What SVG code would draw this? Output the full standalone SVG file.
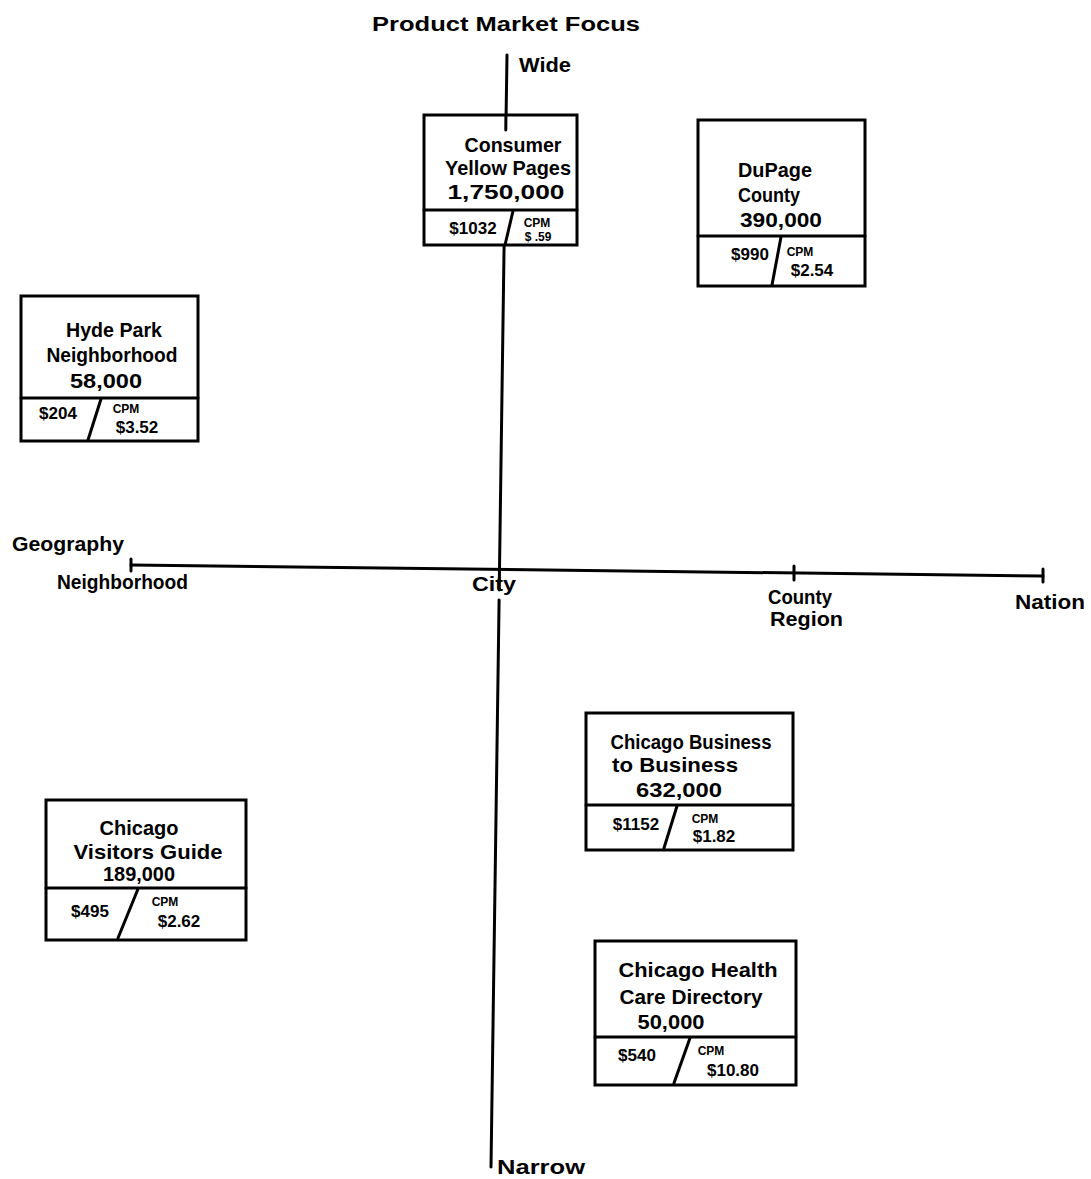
<svg xmlns="http://www.w3.org/2000/svg" width="1091" height="1179" viewBox="0 0 1091 1179">
<style>
text{font-family:"Liberation Sans",Arial,sans-serif;font-weight:bold;fill:#000}
.t{font-size:21px;text-anchor:middle}
.lb{font-size:21px}
.s{font-size:12px;text-anchor:middle}
.v{font-size:17px;text-anchor:middle}
.box{fill:#fff;stroke:#000;stroke-width:3}
.ln{fill:none;stroke:#000;stroke-width:3;stroke-linecap:round}
</style>
<rect width="1091" height="1179" fill="#fff"/>
<g id="axes">
<line class="ln" x1="507" y1="55" x2="506.1" y2="115"/>
<line class="ln" x1="504.1" y1="245" x2="499.2" y2="590"/>
<line class="ln" x1="499.1" y1="600" x2="491" y2="1167"/>
<line class="ln" x1="131" y1="565" x2="1043" y2="576"/>
<line class="ln" x1="131" y1="559" x2="131" y2="571"/>
<line class="ln" x1="794" y1="566" x2="794" y2="580"/>
<line class="ln" x1="1043" y1="569" x2="1043" y2="582"/>
</g>
<g id="labels">
<text class="lb" x="372" y="31" textLength="268" lengthAdjust="spacingAndGlyphs">Product Market Focus</text>
<text class="lb" x="519" y="72" textLength="52" lengthAdjust="spacingAndGlyphs">Wide</text>
<text class="lb" x="497" y="1174" textLength="88" lengthAdjust="spacingAndGlyphs">Narrow</text>
<text class="lb" x="12" y="551" textLength="112" lengthAdjust="spacingAndGlyphs">Geography</text>
<text class="lb" x="57" y="589" textLength="131" lengthAdjust="spacingAndGlyphs">Neighborhood</text>
<text class="lb" x="472" y="591" textLength="44" lengthAdjust="spacingAndGlyphs">City</text>
<text class="lb" x="768" y="604" textLength="64" lengthAdjust="spacingAndGlyphs">County</text>
<text class="lb" x="770" y="626" textLength="73" lengthAdjust="spacingAndGlyphs">Region</text>
<text class="lb" x="1015" y="609" textLength="70" lengthAdjust="spacingAndGlyphs">Nation</text>
</g>
<g id="consumer-yellow-pages">
<rect class="box" x="424" y="115" width="153" height="130"/>
<line class="ln" x1="505.9" y1="115" x2="505.8" y2="130"/>
<line class="ln" x1="424" y1="210" x2="577" y2="210"/>
<line class="ln" x1="513" y1="211" x2="505" y2="245"/>
<text class="t" x="513" y="152" textLength="97" lengthAdjust="spacingAndGlyphs">Consumer</text>
<text class="t" x="508" y="175" textLength="126" lengthAdjust="spacingAndGlyphs">Yellow Pages</text>
<text class="t" x="506" y="199" textLength="117" lengthAdjust="spacingAndGlyphs">1,750,000</text>
<text class="v" x="473" y="234">$1032</text>
<text class="s" x="537" y="227">CPM</text>
<text class="s" x="538" y="241">$ .59</text>
</g>
<g id="dupage-county">
<rect class="box" x="698" y="120" width="167" height="166"/>
<line class="ln" x1="698" y1="236" x2="865" y2="236"/>
<line class="ln" x1="781" y1="237" x2="772" y2="285"/>
<text class="t" x="775" y="177" textLength="74" lengthAdjust="spacingAndGlyphs">DuPage</text>
<text class="t" x="769" y="202" textLength="62" lengthAdjust="spacingAndGlyphs">County</text>
<text class="t" x="781" y="227" textLength="82" lengthAdjust="spacingAndGlyphs">390,000</text>
<text class="v" x="750" y="260">$990</text>
<text class="s" x="800" y="256">CPM</text>
<text class="v" x="812" y="276">$2.54</text>
</g>
<g id="hyde-park">
<rect class="box" x="21" y="296" width="177" height="145"/>
<line class="ln" x1="21" y1="398" x2="198" y2="398"/>
<line class="ln" x1="101" y1="399" x2="88" y2="440"/>
<text class="t" x="114" y="337" textLength="96" lengthAdjust="spacingAndGlyphs">Hyde Park</text>
<text class="t" x="112" y="362" textLength="131" lengthAdjust="spacingAndGlyphs">Neighborhood</text>
<text class="t" x="106" y="388" textLength="72" lengthAdjust="spacingAndGlyphs">58,000</text>
<text class="v" x="58" y="419">$204</text>
<text class="s" x="126" y="413">CPM</text>
<text class="v" x="137" y="433">$3.52</text>
</g>
<g id="chicago-business-to-business">
<rect class="box" x="586" y="713" width="207" height="137"/>
<line class="ln" x1="586" y1="805" x2="793" y2="805"/>
<line class="ln" x1="677" y1="806" x2="664" y2="848"/>
<text class="t" x="691" y="749" textLength="161" lengthAdjust="spacingAndGlyphs">Chicago Business</text>
<text class="t" x="675" y="772" textLength="126" lengthAdjust="spacingAndGlyphs">to Business</text>
<text class="t" x="679" y="797" textLength="86" lengthAdjust="spacingAndGlyphs">632,000</text>
<text class="v" x="636" y="830">$1152</text>
<text class="s" x="705" y="823">CPM</text>
<text class="v" x="714" y="842">$1.82</text>
</g>
<g id="chicago-visitors-guide">
<rect class="box" x="46" y="800" width="200" height="140"/>
<line class="ln" x1="46" y1="888" x2="246" y2="888"/>
<line class="ln" x1="138" y1="889" x2="118" y2="938"/>
<text class="t" x="139" y="835" textLength="79" lengthAdjust="spacingAndGlyphs">Chicago</text>
<text class="t" x="148" y="859" textLength="149" lengthAdjust="spacingAndGlyphs">Visitors Guide</text>
<text class="t" x="139" y="881" textLength="72" lengthAdjust="spacingAndGlyphs">189,000</text>
<text class="v" x="90" y="917">$495</text>
<text class="s" x="165" y="906">CPM</text>
<text class="v" x="179" y="927">$2.62</text>
</g>
<g id="chicago-health-care">
<rect class="box" x="595" y="941" width="201" height="144"/>
<line class="ln" x1="595" y1="1037" x2="796" y2="1037"/>
<line class="ln" x1="690" y1="1038" x2="674" y2="1083"/>
<text class="t" x="698" y="977" textLength="159" lengthAdjust="spacingAndGlyphs">Chicago Health</text>
<text class="t" x="691" y="1004" textLength="143" lengthAdjust="spacingAndGlyphs">Care Directory</text>
<text class="t" x="671" y="1029" textLength="67" lengthAdjust="spacingAndGlyphs">50,000</text>
<text class="v" x="637" y="1061">$540</text>
<text class="s" x="711" y="1055">CPM</text>
<text class="v" x="733" y="1076">$10.80</text>
</g>
</svg>
